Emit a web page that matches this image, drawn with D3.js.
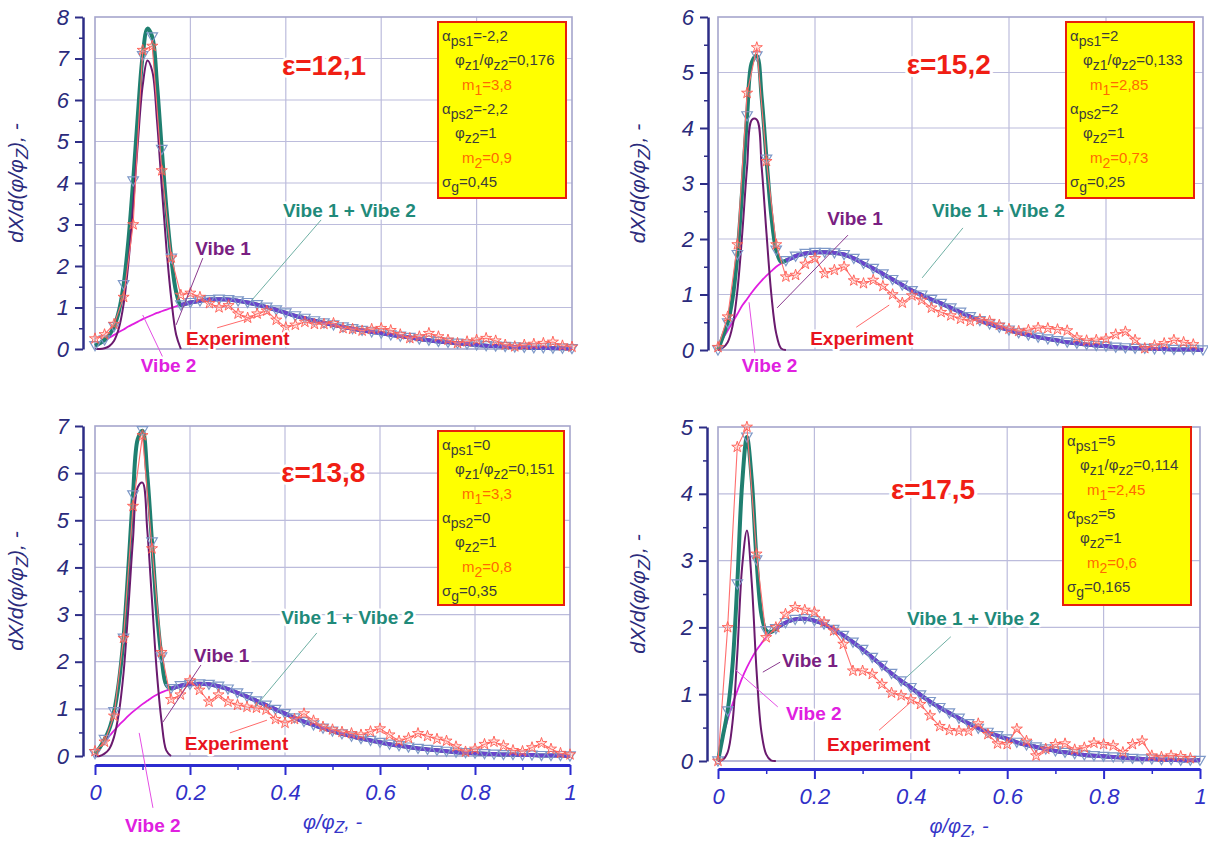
<!DOCTYPE html>
<html>
<head>
<meta charset="utf-8">
<script src="https://cdn.jsdelivr.net/npm/d3@7"></script>
<style>
  body { margin: 0; background: #fff; }
  svg { display: block; font-family: "Liberation Sans", Arial, sans-serif; }
</style>
</head>
<body>
<script>
// x grid of the model curves (phi/phi_z)
var modelX = [0,0.01,0.02,0.03,0.04,0.05,0.06,0.07,0.08,0.09,0.1,0.11,0.12,0.13,0.14,0.15,0.16,0.17,0.18,0.19,0.2,
  0.22,0.24,0.26,0.28,0.3,0.32,0.34,0.36,0.38,0.4,0.42,0.44,0.46,0.48,0.5,0.52,0.54,0.56,0.58,0.6,
  0.62,0.64,0.66,0.68,0.7,0.72,0.74,0.76,0.78,0.8,0.82,0.84,0.86,0.88,0.9,0.92,0.94,0.96,0.98,1];
// x grid of the experimental points
var expX = [0,0.02,0.04,0.06,0.08,0.1,0.12,0.14,0.16,0.18,0.2,0.22,0.24,0.26,0.28,0.3,0.32,0.34,0.36,0.38,
  0.4,0.42,0.44,0.46,0.48,0.5,0.52,0.54,0.56,0.58,0.6,0.62,0.64,0.66,0.68,0.7,0.72,0.74,0.76,0.78,
  0.8,0.82,0.84,0.86,0.88,0.9,0.92,0.94,0.96,0.98,1];

// panel 1 : eps = 12,1
var vibe1_1 = [0,0,0.02,0.07,0.2,0.5,1.08,2.07,3.45,5.0,6.35,6.95,6.7,5.5,3.9,2.4,1.2,0.35,0];
var vibe2_1 = [0.08,0.14,0.2,0.27,0.34,0.41,0.47,0.54,0.6,0.66,0.72,0.77,0.82,0.87,0.91,0.95,0.99,1.03,1.06,1.09,1.12,
  1.16,1.19,1.2,1.19,1.16,1.12,1.07,1.01,0.94,0.87,0.8,0.74,0.68,0.63,0.58,0.53,0.49,0.45,0.41,0.38,
  0.34,0.31,0.28,0.24,0.21,0.18,0.16,0.14,0.12,0.1,0.08,0.07,0.06,0.05,0.04,0.03,0.03,0.02,0.02,0.01];
var exp_1 = [0.25,0.35,0.6,1.25,3.0,7.2,7.3,4.3,2.2,1.3,1.35,1.25,1.1,1.0,1.05,0.85,0.75,0.85,0.92,0.7,
  0.52,0.58,0.65,0.6,0.6,0.62,0.5,0.48,0.44,0.48,0.5,0.45,0.35,0.26,0.3,0.38,0.3,0.22,0.14,0.18,
  0.22,0.26,0.2,0.1,0.06,0.1,0.12,0.14,0.17,0.08,0.05];

// panel 2 : eps = 15,2
var vibe1_2 = [0,0.04,0.14,0.43,1.07,2.1,3.3,4.15,4.15,3.3,2.1,1.0,0.3,0.03,0];
var vibe2_2 = [0,0.2,0.35,0.5,0.65,0.8,0.92,1.04,1.15,1.25,1.34,1.42,1.5,1.56,1.61,1.65,1.69,1.72,1.74,1.75,1.76,
  1.76,1.75,1.72,1.65,1.56,1.47,1.37,1.27,1.17,1.07,0.99,0.91,0.84,0.76,0.68,0.6,0.53,0.47,0.41,0.36,
  0.31,0.27,0.23,0.2,0.17,0.14,0.12,0.1,0.08,0.07,0.05,0.04,0.03,0.03,0.02,0.02,0.01,0.01,0.01,0];
var exp_2 = [0.05,0.6,1.9,4.63,5.45,3.4,1.9,1.32,1.35,1.55,1.65,1.38,1.44,1.5,1.25,1.2,1.26,1.15,1.0,0.85,
  0.98,0.9,0.76,0.68,0.62,0.56,0.52,0.55,0.52,0.45,0.38,0.34,0.36,0.4,0.39,0.37,0.35,0.22,0.17,0.18,
  0.2,0.28,0.33,0.18,0.03,0.08,0.12,0.18,0.14,0.1];

// panel 3 : eps = 13,8
var vibe1_3 = [0,0,0.05,0.15,0.4,0.9,1.75,3.1,4.6,5.7,5.8,4.8,3.3,1.8,0.75,0.12,0];
var vibe2_3 = [0.05,0.18,0.3,0.42,0.54,0.65,0.75,0.85,0.94,1.02,1.1,1.17,1.24,1.3,1.35,1.39,1.43,1.46,1.49,1.51,1.52,
  1.53,1.52,1.48,1.42,1.34,1.26,1.17,1.08,0.99,0.9,0.81,0.73,0.66,0.59,0.53,0.47,0.42,0.37,0.33,0.29,
  0.25,0.22,0.19,0.16,0.14,0.12,0.1,0.08,0.07,0.06,0.05,0.04,0.03,0.03,0.02,0.02,0.01,0.01,0.01,0];
var exp_3 = [0.1,0.3,0.85,2.5,5.3,6.8,4.4,2.2,1.2,1.3,1.6,1.4,1.15,1.3,1.15,1.08,1.04,1.02,0.98,0.78,
  0.7,0.78,0.9,0.75,0.62,0.56,0.51,0.48,0.45,0.52,0.58,0.45,0.32,0.38,0.48,0.42,0.36,0.32,0.2,0.09,
  0.15,0.25,0.3,0.22,0.12,0.1,0.18,0.27,0.15,0.06,0.03];

// panel 4 : eps = 17,5
var vibe1_4 = [0,0.02,0.13,0.57,1.6,2.9,3.45,2.67,1.35,0.44,0.1,0.01,0];
var vibe2_4 = [0,0.35,0.62,0.85,1.05,1.24,1.4,1.54,1.66,1.76,1.85,1.92,1.98,2.03,2.07,2.1,2.12,2.13,2.13,2.12,2.1,
  2.05,1.97,1.88,1.78,1.67,1.55,1.43,1.31,1.2,1.1,0.99,0.89,0.8,0.72,0.64,0.56,0.49,0.43,0.38,0.33,
  0.28,0.24,0.21,0.18,0.15,0.13,0.11,0.09,0.08,0.07,0.06,0.05,0.04,0.03,0.03,0.02,0.02,0.01,0.01,0.01];
var exp_4 = [0,2.0,4.7,5.0,3.1,1.85,2.0,2.2,2.3,2.26,2.23,2.08,1.95,1.75,1.35,1.35,1.3,1.15,1.02,0.98,
  0.92,0.85,0.68,0.52,0.46,0.45,0.45,0.56,0.4,0.26,0.25,0.48,0.3,0.08,0.18,0.25,0.26,0.17,0.2,0.27,
  0.25,0.23,0.13,0.25,0.3,0.08,0.06,0.08,0.07,0.04];

var epsLabels = ['ε=12,1', 'ε=15,2', 'ε=13,8', 'ε=17,5'];
var yMaxes = [8, 6, 7, 5];
var xTicks = [0, 0.2, 0.4, 0.6, 0.8, 1];
var params_1 = ['α_{ps1}=-2,2', 'φ_{z1}/φ_{z2}=0,176', 'm_{1}=3,8', 'α_{ps2}=-2,2', 'φ_{z2}=1', 'm_{2}=0,9', 'σ_{g}=0,45'];
var params_2 = ['α_{ps1}=2', 'φ_{z1}/φ_{z2}=0,133', 'm_{1}=2,85', 'α_{ps2}=2', 'φ_{z2}=1', 'm_{2}=0,73', 'σ_{g}=0,25'];
var params_3 = ['α_{ps1}=0', 'φ_{z1}/φ_{z2}=0,151', 'm_{1}=3,3', 'α_{ps2}=0', 'φ_{z2}=1', 'm_{2}=0,8', 'σ_{g}=0,35'];
var params_4 = ['α_{ps1}=5', 'φ_{z1}/φ_{z2}=0,114', 'm_{1}=2,45', 'α_{ps2}=5', 'φ_{z2}=1', 'm_{2}=0,6', 'σ_{g}=0,165'];

var panels = [
  {v1: vibe1_1, v2: vibe2_1, exp: exp_1, params: params_1},
  {v1: vibe1_2, v2: vibe2_2, exp: exp_2, params: params_2},
  {v1: vibe1_3, v2: vibe2_3, exp: exp_3, params: params_3},
  {v1: vibe1_4, v2: vibe2_4, exp: exp_4, params: params_4}
];

// frame geometry of every panel (pixels)
var layout = [
  {left: 95, right: 572, top: 17, bottom: 349, axisX: 83, xAxisY: null, titleX: 23, box: [438, 22, 128, 176]},
  {left: 718, right: 1203, top: 17, bottom: 350, axisX: 708, xAxisY: null, titleX: 645, box: [1066, 22, 128, 176]},
  {left: 95, right: 570, top: 426, bottom: 756, axisX: 83, xAxisY: 765, titleX: 23, box: [438, 431, 126, 174]},
  {left: 718, right: 1200, top: 427, bottom: 761, axisX: 707, xAxisY: 769, titleX: 645, box: [1063, 427, 128, 178]}
];

// label anchors in data units: [textX, textY, lineX1, lineY1, lineX2, lineY2]
var notes = [
  {eps: [0.392, 6.6], sum: [0.394, 3.18, 0.474, 3.11, 0.329, 1.18], v1: [0.21, 2.27, 0.226, 2.19, 0.17, 0.58],
   exp: [0.191, 0.1, 0.256, 0.51, 0.365, 0.87], v2: [0.096, -0.55, 0.143, -0.22, 0.1, 0.82]},
  {eps: [0.389, 4.97], sum: [0.441, 2.4, 0.505, 2.2, 0.421, 1.3], v1: [0.225, 2.25, 0.268, 2.07, 0.122, 0.76],
   exp: [0.19, 0.09, 0.285, 0.41, 0.353, 0.81], v2: [0.049, -0.4, 0.076, -0.05, 0.064, 0.86]},
  {eps: [0.392, 5.82], sum: [0.392, 2.8, 0.467, 2.61, 0.337, 1.04], v1: [0.208, 2.0, 0.223, 1.93, 0.143, 0.72],
   exp: [0.189, 0.13, 0.284, 0.49, 0.362, 0.76], v2: [0.063, -1.61, 0.122, -1.1, 0.093, 0.49]},
  {eps: [0.359, 3.92], sum: [0.392, 2.04, 0.483, 1.86, 0.392, 1.26], v1: [0.133, 1.41, 0.129, 1.48, 0.093, 1.33],
   exp: [0.226, 0.15, 0.334, 0.46, 0.398, 0.87], v2: [0.141, 0.61, 0.124, 0.81, 0.037, 1.36]}
];

var svg = d3.select('body').append('svg')
  .attr('width', 1208)
  .attr('height', 846);

// text with _{...} subscripts
function richText(sel, str, subSize, drop) {
  var parts = str.split(/(_\{[^}]*\})/).filter(function(p) { return p.length; });
  var lowered = false;
  parts.forEach(function(p) {
    var t = sel.append('tspan');
    if (p[0] === '_') {
      t.text(p.slice(2, -1)).attr('font-size', subSize).attr('dy', lowered ? 0 : drop);
      lowered = true;
    } else {
      t.text(p).attr('dy', lowered ? -drop : 0);
      lowered = false;
    }
  });
}

function drawPanel(i) {
  var L = layout[i], P = panels[i], N = notes[i];
  var yMax = yMaxes[i];
  var x = d3.scaleLinear().domain([0, 1]).range([L.left, L.right]);
  var y = d3.scaleLinear().domain([0, yMax]).range([L.bottom, L.top]);
  var g = svg.append('g');

  // grid
  g.selectAll('.hg').data(d3.range(1, yMax)).enter().append('line')
    .attr('x1', L.left).attr('x2', L.right)
    .attr('y1', function(d) { return y(d); }).attr('y2', function(d) { return y(d); })
    .attr('stroke', '#bcbcdc').attr('stroke-width', 1.2);
  g.selectAll('.vg').data([0.2, 0.4, 0.6, 0.8]).enter().append('line')
    .attr('y1', L.top).attr('y2', L.bottom)
    .attr('x1', function(d) { return x(d); }).attr('x2', function(d) { return x(d); })
    .attr('stroke', '#bcbcdc').attr('stroke-width', 1.2);
  g.append('rect')
    .attr('x', L.left).attr('y', L.top)
    .attr('width', L.right - L.left).attr('height', L.bottom - L.top)
    .attr('fill', 'none').attr('stroke', '#a6a6cc').attr('stroke-width', 1.6);

  // y axis
  var ya = g.append('g').attr('transform', 'translate(' + L.axisX + ',0)')
    .call(d3.axisLeft(y).tickValues(d3.range(0, yMax + 1)).tickSize(8).tickPadding(6)
      .tickSizeOuter(0).tickFormat(d3.format('d')));
  ya.select('.domain').attr('stroke', '#2d2d86').attr('stroke-width', 2.5);
  ya.selectAll('.tick line').attr('stroke', '#2d2d86').attr('stroke-width', 2);
  ya.selectAll('.tick text').attr('fill', '#2b2b7c').attr('font-size', 22)
    .attr('font-style', 'italic').attr('font-family', '"Liberation Sans", Arial, sans-serif');
  var ym = g.append('g').attr('transform', 'translate(' + L.axisX + ',0)')
    .call(d3.axisLeft(y).tickValues(d3.range(0.5, yMax, 1)).tickSize(4).tickFormat(''));
  ym.select('.domain').remove();
  ym.selectAll('.tick line').attr('stroke', '#2d2d86').attr('stroke-width', 1.5);

  // y title
  var yt = g.append('text')
    .attr('transform', 'translate(' + L.titleX + ',' + ((L.top + L.bottom) / 2) + ') rotate(-90)')
    .attr('text-anchor', 'middle').attr('dy', '0.35em')
    .attr('font-size', 21).attr('font-style', 'italic').attr('fill', '#2b2b7c');
  richText(yt, 'dX/d(φ/φ_{Z}), -', 17, 5);

  // x axis (bottom row only)
  if (L.xAxisY !== null) {
    var xa = g.append('g').attr('transform', 'translate(0,' + L.xAxisY + ')')
      .call(d3.axisBottom(x).tickValues(xTicks).tickSize(10).tickPadding(9).tickSizeOuter(0)
        .tickFormat(function(d) { return String(+d.toFixed(1)); }));
    xa.select('.domain').attr('stroke', '#2b2bd0').attr('stroke-width', 3);
    xa.selectAll('.tick line').attr('stroke', '#2b2bd0').attr('stroke-width', 2);
    xa.selectAll('.tick text').attr('fill', '#3030c8').attr('font-size', 22)
      .attr('font-style', 'italic').attr('font-family', '"Liberation Sans", Arial, sans-serif');
    var xm = g.append('g').attr('transform', 'translate(0,' + L.xAxisY + ')')
      .call(d3.axisBottom(x).tickValues([0.1, 0.3, 0.5, 0.7, 0.9]).tickSize(5).tickFormat(''));
    xm.select('.domain').remove();
    xm.selectAll('.tick line').attr('stroke', '#2b2bd0').attr('stroke-width', 1.5);

    var xt = g.append('text')
      .attr('x', (L.left + L.right) / 2).attr('y', L.xAxisY + 64)
      .attr('text-anchor', 'middle')
      .attr('font-size', 20).attr('font-style', 'italic').attr('fill', '#3535c8');
    richText(xt, 'φ/φ_{Z}, -', 16, 4);
  }

  // model rows
  var rows = modelX.map(function(xv, j) {
    var a = j < P.v1.length ? P.v1[j] : 0;
    return {x: xv, v1: a, v2: P.v2[j], sum: a + P.v2[j], j: j};
  });
  var lineOf = function(key) {
    return d3.line().curve(d3.curveCatmullRom)
      .x(function(d) { return x(d.x); })
      .y(function(d) { return y(d[key]); });
  };

  g.append('path').datum(rows).attr('d', lineOf('v2'))
    .attr('fill', 'none').attr('stroke', '#e01ee0').attr('stroke-width', 1.8);
  g.append('path').datum(rows).attr('d', lineOf('sum'))
    .attr('fill', 'none').attr('stroke', '#1f7f70').attr('stroke-width', 4);
  g.append('path').datum(rows.filter(function(d) { return d.j >= P.v1.length - 1; })).attr('d', lineOf('sum'))
    .attr('fill', 'none').attr('stroke', '#6a44cc').attr('stroke-width', 4);
  g.append('path').datum(rows.slice(0, P.v1.length)).attr('d', lineOf('v1'))
    .attr('fill', 'none').attr('stroke', '#6a1a6e').attr('stroke-width', 2);

  // triangles on the model
  var tri = d3.symbol().type(d3.symbolTriangle).size(48);
  g.selectAll('.tri').data(rows.filter(function(d) { return Math.round(d.x * 100) % 2 === 0; }))
    .enter().append('path')
    .attr('d', tri)
    .attr('transform', function(d) { return 'translate(' + x(d.x) + ',' + (y(d.sum) - 1) + ') rotate(180)'; })
    .attr('fill', 'none').attr('stroke', '#7d98c8').attr('stroke-width', 1.2);

  // experiment
  var ex = P.exp.map(function(v, j) { return {x: expX[j], v: v}; });
  g.append('path').datum(ex)
    .attr('d', d3.line().x(function(d) { return x(d.x); }).y(function(d) { return y(d.v); }))
    .attr('fill', 'none').attr('stroke', '#ff6e6e').attr('stroke-width', 1.1);
  var star = d3.symbol().type(d3.symbolStar).size(38);
  g.selectAll('.star').data(ex).enter().append('path')
    .attr('d', star)
    .attr('transform', function(d) { return 'translate(' + x(d.x) + ',' + y(d.v) + ')'; })
    .attr('fill', 'rgba(255,170,160,0.3)').attr('stroke', '#ff5a50').attr('stroke-width', 0.9);

  // labels with leader lines
  var labelDefs = [
    {k: 'sum', text: 'Vibe 1 + Vibe 2', color: '#1f8a7a', lead: '#6fb0a4'},
    {k: 'v1', text: 'Vibe 1', color: '#7a1f82', lead: '#8a3a8e'},
    {k: 'exp', text: 'Experiment', color: '#e8141e', lead: '#ff6a6a'},
    {k: 'v2', text: 'Vibe 2', color: '#e020e0', lead: '#e44ee4'}
  ];
  labelDefs.forEach(function(ld) {
    var a = N[ld.k];
    g.append('line')
      .attr('x1', x(a[2])).attr('y1', y(a[3])).attr('x2', x(a[4])).attr('y2', y(a[5]))
      .attr('stroke', ld.lead).attr('stroke-width', 1);
  });
  labelDefs.forEach(function(ld) {
    var a = N[ld.k];
    g.append('text').attr('x', x(a[0])).attr('y', y(a[1]))
      .text(ld.text)
      .attr('font-size', 19).attr('font-weight', 'bold').attr('fill', ld.color)
      .attr('stroke', '#fff').attr('stroke-width', 5).attr('paint-order', 'stroke')
      .attr('stroke-linejoin', 'round');
  });

  g.append('text').attr('x', x(N.eps[0])).attr('y', y(N.eps[1]))
    .text(epsLabels[i])
    .attr('font-size', 28).attr('font-weight', 'bold').attr('fill', '#f01e14')
    .attr('stroke', '#fff').attr('stroke-width', 6).attr('paint-order', 'stroke');

  // parameter box
  var b = L.box;
  g.append('rect').attr('x', b[0]).attr('y', b[1]).attr('width', b[2]).attr('height', b[3])
    .attr('fill', '#ffff00').attr('stroke', '#e8200c').attr('stroke-width', 2);
  var indent = [4, 17, 24, 4, 17, 24, 4];
  P.params.forEach(function(s, j) {
    var t = g.append('text')
      .attr('x', b[0] + indent[j]).attr('y', b[1] + 19 + j * 24.3)
      .attr('font-size', 15)
      .attr('fill', (j === 2 || j === 5) ? '#ff6a00' : '#3c3c3c');
    richText(t, s, 14, 5);
  });
}

for (var i = 0; i < 4; i++) drawPanel(i);
</script>
</body>
</html>
